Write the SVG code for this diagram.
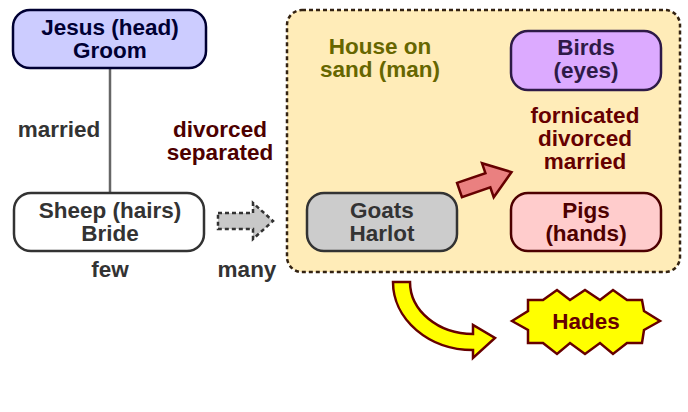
<svg xmlns="http://www.w3.org/2000/svg" width="688" height="412" viewBox="0 0 688 412">
<style>
text{font-family:"Liberation Sans",Arial,sans-serif;font-weight:bold;font-size:22.5px;text-anchor:middle}
.box{stroke-width:2.5}
</style>
<rect width="688" height="412" fill="#ffffff"/>
<g id="container">
<rect x="287" y="10" width="393" height="262" rx="15" fill="#ffecb8" stroke="#332211" stroke-width="2.5" stroke-dasharray="4,3"/>
<text x="380" y="54" fill="#666600">House on</text>
<text x="380" y="77" fill="#666600">sand (man)</text>
</g>
<g id="connectors">
<line x1="110" y1="68" x2="110" y2="193" stroke="#666666" stroke-width="2.5"/>
<path d="M218,213 L253,213 L253,203 L273,221 L253,239 L253,229 L218,229 Z" fill="#c8c8c8" stroke="#333333" stroke-width="2.5" stroke-dasharray="4,3"/>
<path d="M0,-7.5 L30,-7.5 L30,-18 L55,0 L30,18 L30,7.5 L0,7.5 Z" transform="translate(459.5,190) rotate(-19)" fill="#ea8080" stroke="#660000" stroke-width="2.5"/>
<path d="M393,282 L410,282 A63,52 0 0 0 473,334 L473,325 L495,338 L473,358 L473,350 A80,68 0 0 1 393,282 Z" fill="#ffff00" stroke="#660000" stroke-width="2.5"/>
</g>
<g id="jesus">
<rect class="box" x="13" y="10" width="193" height="58" rx="17" fill="#ccccff" stroke="#000033"/>
<text x="110" y="35" fill="#000033">Jesus (head)</text>
<text x="110" y="58" fill="#000033">Groom</text>
</g>
<g id="sheep">
<rect class="box" x="14" y="193" width="190" height="58" rx="17" fill="#ffffff" stroke="#333333"/>
<text x="110" y="218" fill="#333333">Sheep (hairs)</text>
<text x="110" y="241" fill="#333333">Bride</text>
</g>
<g id="labels">
<text x="59" y="137" fill="#333333">married</text>
<text x="220" y="137" fill="#4d0000">divorced</text>
<text x="220" y="160" fill="#4d0000">separated</text>
<text x="110" y="277" fill="#333333">few</text>
<text x="247" y="277" fill="#333333">many</text>
<text x="585" y="123" fill="#660000">fornicated</text>
<text x="585" y="146" fill="#660000">divorced</text>
<text x="585" y="169" fill="#660000">married</text>
</g>
<g id="birds">
<rect class="box" x="511" y="31" width="150" height="59" rx="17" fill="#dcaaff" stroke="#2e1a47"/>
<text x="586" y="55" fill="#2e1a47">Birds</text>
<text x="586" y="78" fill="#2e1a47">(eyes)</text>
</g>
<g id="goats">
<rect class="box" x="307" y="193" width="150" height="58" rx="17" fill="#cccccc" stroke="#333333"/>
<text x="382" y="218" fill="#333333">Goats</text>
<text x="382" y="241" fill="#333333">Harlot</text>
</g>
<g id="pigs">
<rect class="box" x="511" y="193" width="150" height="58" rx="17" fill="#ffcccc" stroke="#4d0000"/>
<text x="586" y="218" fill="#4d0000">Pigs</text>
<text x="586" y="241" fill="#4d0000">(hands)</text>
</g>
<g id="hades">
<polygon points="512,321 528,311 528,300 543,300 557,290 570,300 585,290 600,300 613,290 627,300 642,300 644,311 660,321 644,330 642,343 627,343 613,354 600,343 585,354 570,343 557,354 543,343 528,343 528,330" fill="#ffff00" stroke="#660000" stroke-width="2.5"/>
<text x="586" y="329" fill="#660000">Hades</text>
</g>
</svg>
